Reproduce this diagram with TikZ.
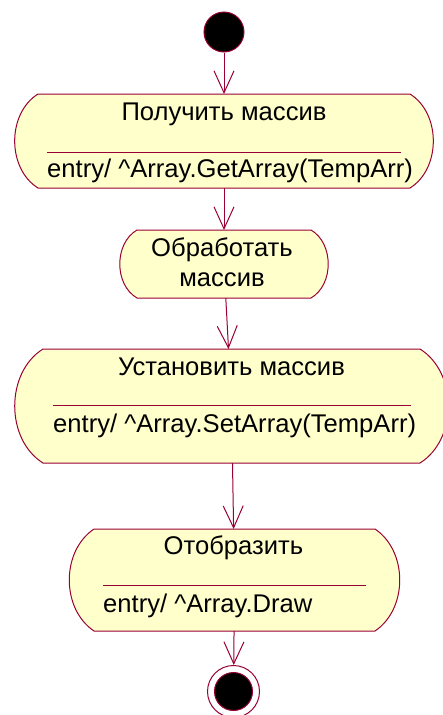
\documentclass[tikz,border=0pt]{standalone}
\usepackage{fontspec}
\setmainfont{Liberation Sans}
\usepackage{xcolor}
\usepackage{tikz}
\usetikzlibrary{arrows.meta, calc}

\definecolor{roseline}{RGB}{153,0,51}
\definecolor{rosefill}{RGB}{255,255,204}

\begin{document}
\begin{tikzpicture}[
    x=1pt, y=-1pt,
    actbox/.style={inner sep=0pt, outer sep=0pt},
    actline/.style={draw=roseline, fill=rosefill, line width=1pt},
    lbl/.style={font=\fontsize{25.6}{30}\selectfont, inner sep=0pt},
    dot/.style={circle, fill=black, draw=roseline, line width=1pt, inner sep=0pt},
    sep/.style={draw=roseline, line width=0.8pt},
    arr/.style={draw=roseline, line width=1pt, -{Straight Barb[length=22pt, width=20pt]}},
  ]
    \useasboundingbox (0,0) rectangle (442,715);

    \node[dot, minimum size=40pt] (start) at (224,32) {};
    \node[actbox, minimum width=426pt, minimum height=94pt] (get) at (224,141) {};
    \node[actbox, minimum width=214pt, minimum height=68pt] (proc) at (224,264) {};
    \node[actbox, minimum width=441pt, minimum height=114pt] (set) at (231.5,406) {};
    \node[actbox, minimum width=335pt, minimum height=102pt] (show) at (234.5,580) {};
    \node[circle, draw=roseline, fill=white, line width=1pt, inner sep=0pt,
      minimum size=52pt] (stop) at (233.5,691.5) {};
    \node[dot, minimum size=38pt] (stopdot) at (stop.center) {};

    % activity outlines
    \draw[actline] ($(get.north west)+(27,0)$) -- ($(get.north east)+(-27,0)$)
      to[bend left=58] ($(get.south east)+(-27,0)$) -- ($(get.south west)+(27,0)$)
      to[bend left=58] cycle;
    \draw[actline] ($(proc.north west)+(20,0)$) -- ($(proc.north east)+(-20,0)$)
      to[bend left=60] ($(proc.south east)+(-20,0)$) -- ($(proc.south west)+(20,0)$)
      to[bend left=60] cycle;
    \draw[actline] ($(set.north west)+(32,0)$) -- ($(set.north east)+(-32,0)$)
      to[bend left=58] ($(set.south east)+(-32,0)$) -- ($(set.south west)+(32,0)$)
      to[bend left=58] cycle;
    \draw[actline] ($(show.north west)+(27,0)$) -- ($(show.north east)+(-27,0)$)
      to[bend left=56] ($(show.south east)+(-27,0)$) -- ($(show.south west)+(27,0)$)
      to[bend left=56] cycle;

    \node[lbl, anchor=base] (get-title) at (224,120) {Получить массив};
    \draw[sep] (47,152) -- (401,152);
    \node[lbl, anchor=base west] (get-entry) at (47,177)
      {entry/ \textasciicircum Array.GetArray(TempArr)};

    \node[lbl, align=center] (proc-title) at (222,262) {Обработать\\массив};

    \node[lbl, anchor=base] (set-title) at (231.5,375) {Установить массив};
    \draw[sep] (53,405) -- (411,405);
    \node[lbl, anchor=base west] (set-entry) at (53,432)
      {entry/ \textasciicircum Array.SetArray(TempArr)};

    \node[lbl, anchor=base] (show-title) at (233.5,554) {Отобразить};
    \draw[sep] (103,585) -- (366,585);
    \node[lbl, anchor=base west] (show-entry) at (103,612)
      {entry/ \textasciicircum Array.Draw};

    \draw[arr] (start) -- (get);
    \draw[arr] (get) -- (proc);
    \draw[arr] (proc) -- (set);
    \draw[arr] (set) -- (show);
    \draw[arr] (show) -- (stop);
  \end{tikzpicture}
\end{document}
